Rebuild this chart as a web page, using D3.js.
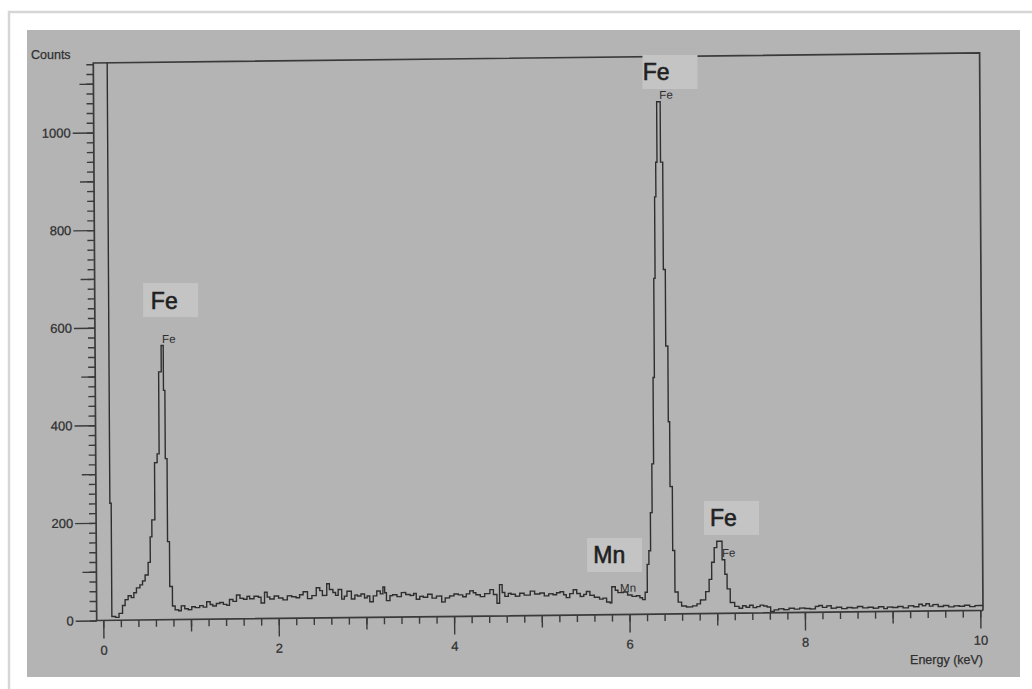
<!DOCTYPE html>
<html>
<head>
<meta charset="utf-8">
<script src="https://cdn.jsdelivr.net/npm/d3@7"></script>
<style>
  body { margin: 0; background: #fff; }
  svg { display: block; font-family: "Liberation Sans", Arial, sans-serif; }
</style>
</head>
<body>
<svg id="chart"></svg>
<script>
// EDS spectrum, [energy keV, counts], drawn as steps
var lowSpectrum = [
  [0.078, 2400], [0.083, 240], [0.098, 8], [0.14, 6], [0.18, 14], [0.22, 30], [0.25, 42],
  [0.285, 50], [0.32, 46], [0.35, 56], [0.38, 66], [0.42, 72], [0.45, 80], [0.48, 92],
  [0.515, 118], [0.54, 170], [0.56, 205], [0.595, 322], [0.625, 340], [0.648, 508],
  [0.678, 562], [0.702, 470], [0.718, 330], [0.738, 160], [0.76, 68], [0.79, 28]
]

var midSpectrum = [
  [0.82, 20], [0.86, 18], [0.89, 28], [0.93, 22], [0.97, 20], [1.01, 26], [1.05, 24], [1.1, 28],
  [1.14, 25], [1.18, 36], [1.22, 30], [1.25, 27], [1.29, 32], [1.33, 34], [1.37, 30], [1.41, 28],
  [1.44, 40], [1.48, 36], [1.52, 49], [1.56, 42], [1.6, 40], [1.64, 46], [1.67, 41], [1.72, 46],
  [1.77, 44], [1.8, 32], [1.84, 54], [1.87, 44], [1.9, 40], [1.95, 46], [2.0, 42], [2.05, 38],
  [2.1, 46], [2.15, 44], [2.2, 42], [2.24, 48], [2.28, 54], [2.33, 40], [2.38, 46], [2.43, 62],
  [2.47, 56], [2.5, 46], [2.55, 70], [2.58, 58], [2.62, 52], [2.65, 46], [2.68, 58], [2.72, 38],
  [2.75, 44], [2.78, 54], [2.83, 38], [2.87, 46], [2.9, 44], [2.94, 48], [2.98, 40], [3.01, 44],
  [3.04, 32], [3.08, 44], [3.12, 54], [3.16, 48], [3.19, 62], [3.21, 50], [3.23, 34], [3.27, 44],
  [3.3, 46], [3.35, 42], [3.4, 50], [3.45, 46], [3.5, 44], [3.54, 48], [3.57, 36], [3.61, 42],
  [3.65, 40], [3.7, 46], [3.75, 38], [3.8, 42], [3.86, 30], [3.9, 38], [3.95, 42], [4.0, 46],
  [4.05, 44], [4.1, 40], [4.14, 46], [4.18, 52], [4.22, 48], [4.25, 44], [4.3, 40], [4.35, 46],
  [4.41, 54], [4.45, 44], [4.49, 26], [4.52, 64], [4.55, 48], [4.58, 40], [4.62, 46], [4.65, 44],
  [4.7, 40], [4.75, 46], [4.8, 42], [4.87, 50], [4.92, 44], [4.98, 46], [5.03, 40], [5.08, 44],
  [5.13, 42], [5.17, 46], [5.21, 48], [5.25, 42], [5.28, 36], [5.32, 44], [5.36, 52], [5.4, 44],
  [5.44, 38], [5.48, 42], [5.51, 48], [5.55, 40], [5.6, 36], [5.66, 32], [5.7, 34], [5.74, 26],
  [5.78, 24], [5.8, 57], [5.84, 50], [5.87, 45], [5.93, 46], [5.98, 40], [6.03, 37], [6.08, 38],
  [6.12, 34], [6.15, 30]
]

var highSpectrum = [
  [6.18, 45], [6.205, 102], [6.225, 130], [6.245, 208], [6.265, 308], [6.285, 485], [6.3, 688],
  [6.315, 855], [6.33, 926], [6.345, 1050], [6.385, 926], [6.41, 706], [6.432, 549], [6.456, 394],
  [6.471, 261], [6.497, 130], [6.52, 45], [6.556, 24], [6.595, 16], [6.65, 14], [6.72, 16],
  [6.77, 20], [6.81, 28], [6.87, 45], [6.91, 70], [6.94, 105], [6.97, 135], [7.0, 148],
  [7.06, 110], [7.09, 80], [7.115, 50], [7.15, 22], [7.2, 14], [7.25, 10], [7.29, 15], [7.33, 12],
  [7.37, 16], [7.41, 11], [7.45, 13], [7.49, 16], [7.53, 14], [7.57, 12], [7.61, 3], [7.65, 6],
  [7.7, 8], [7.76, 6], [7.82, 9], [7.88, 7], [7.94, 9], [8.0, 8], [8.06, 7], [8.12, 12],
  [8.16, 14], [8.2, 10], [8.25, 13], [8.3, 8], [8.36, 10], [8.42, 7], [8.48, 9], [8.54, 8],
  [8.6, 11], [8.66, 8], [8.72, 9], [8.78, 7], [8.84, 10], [8.9, 6], [8.94, 9], [9.0, 8],
  [9.06, 10], [9.12, 7], [9.18, 11], [9.24, 9], [9.3, 14], [9.34, 11], [9.38, 15], [9.42, 10],
  [9.46, 13], [9.52, 9], [9.58, 11], [9.64, 8], [9.7, 10], [9.76, 9], [9.82, 11], [9.88, 8],
  [9.94, 10], [10.0, 10], [10.05, 10]
]

var xLabelTicks = [0, 2, 4, 6, 8, 10]
var yLabelTicks = [0, 200, 400, 600, 800, 1000]

// peak annotations
var peakNames = ["Fe", "Fe", "Mn", "Fe"]
var peakEnergy = [0.69, 6.365, 5.82, 7.03]
var peakCounts = [562, 1050, 57, 148]

var spectrum = lowSpectrum.concat(midSpectrum, highSpectrum)

var dimensions = {
  width: 1032,
  height: 689,
  left: 96.7,
  right: 983,
  top: 63,
  bottom: 620.5
}

var svg = d3.select("#chart")
  .attr("width", dimensions.width)
  .attr("height", dimensions.height)

// page, card and scanned sheet
svg.append("rect").attr("width", dimensions.width).attr("height", dimensions.height).attr("fill", "#fff")
svg.append("rect")
  .attr("x", 9).attr("y", 12).attr("width", 1060).attr("height", 720)
  .attr("fill", "#fff").attr("stroke", "#d6d6d6").attr("stroke-width", 2.5)
svg.append("rect")
  .attr("x", 27).attr("y", 30).attr("width", 993).attr("height", 647)
  .attr("fill", "#b4b4b4")

var xScale = d3.scaleLinear().domain([0, 10]).range([103.3, 980.3])
var yScale = d3.scaleLinear().domain([0, 1000]).range([dimensions.bottom, 132.5])

// the scan is slightly skewed
var skewB = -0.0114, skewC = 0.0061
var ox = dimensions.left, oy = dimensions.bottom
var toScreen = (x, y) => [x + skewC * (y - oy), y + skewB * (x - ox)]

var plot = svg.append("g")
  .attr("transform", `matrix(1,${skewB},${skewC},1,${-skewC * oy},${-skewB * ox})`)

plot.append("clipPath").attr("id", "plotClip")
  .append("rect")
  .attr("x", dimensions.left).attr("y", dimensions.top)
  .attr("width", dimensions.right - dimensions.left)
  .attr("height", dimensions.bottom - dimensions.top)

var ink = "#3a3a3a"

// axes
function cleanAxis(g, labelled) {
  g.select(".domain").remove()
  g.selectAll(".tick line").attr("stroke", ink).attr("stroke-width", 1.4)
  g.selectAll(".tick text").attr("fill", "#2f2f2f").style("font-size", "13px")
    .attr("stroke", "#2f2f2f").attr("stroke-width", 0.25)
  if (!labelled) g.selectAll(".tick text").remove()
}

var yMinor = d3.range(0, 1141, 20)
var yMid = d3.range(100, 1141, 200)
plot.append("g").attr("transform", `translate(${dimensions.left},0)`)
  .call(d3.axisLeft(yScale).tickValues(yMinor).tickSize(7).tickFormat(""))
  .call(g => cleanAxis(g, false))
plot.append("g").attr("transform", `translate(${dimensions.left},0)`)
  .call(d3.axisLeft(yScale).tickValues(yMid).tickSize(14).tickFormat(""))
  .call(g => cleanAxis(g, false))
plot.append("g").attr("transform", `translate(${dimensions.left},0)`)
  .call(d3.axisLeft(yScale).tickValues(yLabelTicks).tickSize(21).tickPadding(2).tickFormat(d3.format("d")))
  .call(g => cleanAxis(g, true))

var xMinor = d3.range(0, 10.01, 0.2)
var xMid = [1, 3, 5, 7, 9]
plot.append("g").attr("transform", `translate(0,${dimensions.bottom})`)
  .call(d3.axisBottom(xScale).tickValues(xMinor).tickSize(7).tickFormat(""))
  .call(g => cleanAxis(g, false))
plot.append("g").attr("transform", `translate(0,${dimensions.bottom})`)
  .call(d3.axisBottom(xScale).tickValues(xMid).tickSize(12).tickFormat(""))
  .call(g => cleanAxis(g, false))
plot.append("g").attr("transform", `translate(0,${dimensions.bottom})`)
  .call(d3.axisBottom(xScale).tickValues(xLabelTicks).tickSize(18).tickPadding(7).tickFormat(d3.format("d")))
  .call(g => cleanAxis(g, true))

// frame: y axis, x axis, top, right
var frame = [
  [dimensions.right, dimensions.bottom], [dimensions.left, dimensions.bottom],
  [dimensions.left, dimensions.top], [dimensions.right, dimensions.top],
  [dimensions.right, dimensions.bottom]
]
plot.append("path")
  .attr("d", d3.line()(frame))
  .attr("fill", "none").attr("stroke", ink).attr("stroke-width", 1.7)

// spectrum
plot.append("path")
  .datum(spectrum)
  .attr("clip-path", "url(#plotClip)")
  .attr("d", d3.line()
    .x(d => xScale(d[0]))
    .y(d => yScale(d[1]))
    .curve(d3.curveStepAfter))
  .attr("fill", "none")
  .attr("stroke", "#2e2e2e")
  .attr("stroke-width", 1.4)

// small element markers from the instrument
var markerOffset = [[0, -2.5], [1, -2.7], [6.5, 5.2], [2.6, 15.8]]
plot.selectAll(".marker")
  .data(peakNames)
  .enter()
  .append("text")
  .attr("class", "marker")
  .attr("x", (d, i) => xScale(peakEnergy[i]) + markerOffset[i][0])
  .attr("y", (d, i) => yScale(peakCounts[i]) + markerOffset[i][1])
  .attr("fill", "#2e2e2e")
  .style("font-size", "11.5px")
  .text(d => d)

// axis titles
svg.append("text").attr("x", 31).attr("y", 59)
  .attr("fill", "#2f2f2f").attr("stroke", "#2f2f2f").attr("stroke-width", 0.25)
  .style("font-size", "12.5px").text("Counts")
svg.append("text").attr("x", 983).attr("y", 664).attr("text-anchor", "end")
  .attr("fill", "#2f2f2f").attr("stroke", "#2f2f2f").attr("stroke-width", 0.25)
  .style("font-size", "12.5px").text("Energy (keV)")

// overlaid label boxes
var boxOffset = [[-19, -28.4], [-15.9, -12.7], [-26.5, -14.8], [-15.4, -6.2]]
var boxText = [7.7, 0.3, 6.3, 6]
var boxes = svg.selectAll(".peakBox")
  .data(peakNames)
  .enter()
  .append("g")
  .attr("class", "peakBox")
  .attr("transform", (d, i) => {
    var p = toScreen(xScale(peakEnergy[i]), yScale(peakCounts[i]))
    return `translate(${p[0] + boxOffset[i][0]},${p[1] + boxOffset[i][1] - 34})`
  })
boxes.append("rect")
  .attr("width", 55).attr("height", 34)
  .attr("fill", "#c4c4c4")
boxes.append("text")
  .attr("x", (d, i) => boxText[i])
  .attr("y", 25.5)
  .attr("fill", "#1f1f1f")
  .attr("stroke", "#1f1f1f")
  .attr("stroke-width", 0.6)
  .style("font-size", "23px")
  .text(d => d)
</script>
</body>
</html>
